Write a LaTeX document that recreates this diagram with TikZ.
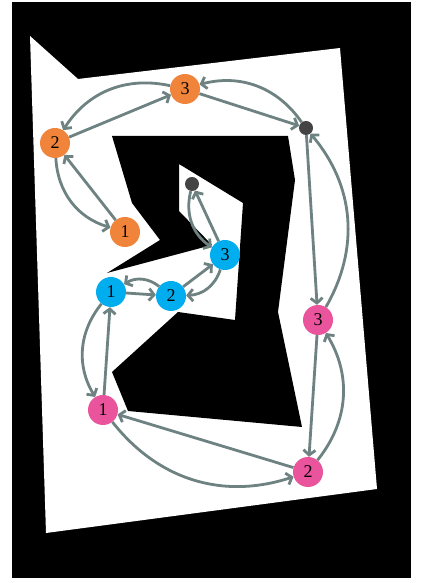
\documentclass[tikz,border=0pt]{standalone}
\usepackage{fontspec}
\setmainfont{Liberation Serif}
\usepackage{xcolor}
\definecolor{tangerine}{HTML}{F0843A}
\definecolor{sky}{HTML}{00AEEF}
\definecolor{rose}{HTML}{E9549C}
\definecolor{charcoal}{HTML}{444444}
\definecolor{sage}{HTML}{6F8282}
\usepackage{tikz}
\usetikzlibrary{arrows.meta}
\tikzset{
  >={Straight Barb[length=5pt,width=12pt]},
  spot/.style      ={circle,inner sep=0pt,minimum size=30pt,
                     font=\fontsize{18}{18}\selectfont},
  orangespot/.style={spot,fill=tangerine},
  bluespot/.style  ={spot,fill=sky},
  pinkspot/.style  ={spot,fill=rose},
  endspot/.style   ={circle,inner sep=0pt,minimum size=14pt,fill=charcoal},
  fwd/.style       ={->,draw=sage,line width=2.8pt},
  back/.style      ={->,draw=sage,line width=2.8pt,bend right=35},
  backl/.style     ={->,draw=sage,line width=2.8pt,bend left=35},
}

\begin{document}
\begin{tikzpicture}[x=1pt,y=1pt]
\useasboundingbox (0,0) rectangle (422,583);
% floor plan
\fill[black] (12,5) rectangle (411,581);
\fill[white] (30,547) -- (78,504) -- (340,535) -- (377,94) -- (46,50) -- cycle;
\fill[black] (112,447) -- (288,447) -- (295,403) -- (278,271) -- (302,156)
  -- (128,172) -- (112,211) -- (178,271) -- (235,263) -- (243,380)
  -- (179,419) -- (179,372) -- (212,338) -- (107,310) -- (160,343)
  -- (132,380) -- cycle;
% stops
\node[orangespot] (o1) at (125,351) {1};
\node[orangespot] (o2) at (55,440)  {2};
\node[orangespot] (o3) at (185,494) {3};
\node[endspot]    (d1) at (306,455) {};
\node[pinkspot]   (p3) at (318,263) {3};
\node[pinkspot]   (p2) at (308,111) {2};
\node[pinkspot]   (p1) at (103,173) {1};
\node[bluespot]   (b1) at (111,291) {1};
\node[bluespot]   (b2) at (171,287) {2};
\node[bluespot]   (b3) at (225,328) {3};
\node[endspot]    (d2) at (192,399) {};
% forward links
\draw[fwd] (o1) -- (o2);
\draw[fwd] (o2) -- (o3);
\draw[fwd] (o3) -- (d1);
\draw[fwd] (d1) -- (p3);
\draw[fwd] (p3) -- (p2);
\draw[fwd] (p2) -- (p1);
\draw[fwd] (p1) -- (b1);
\draw[fwd] (b1) -- (b2);
\draw[fwd] (b2) -- (b3);
\draw[fwd] (b3) -- (d2);
% return links
\draw[back]  (o2) to (o1);
\draw[back]  (o3) to (o2);
\draw[back]  (d1) to (o3);
\draw[back]  (p3) to (d1);
\draw[back]  (p2) to (p3);
\draw[back]  (p1) to (p2);
\draw[back]  (b1) to (p1);
\draw[back]  (b2) to (b1);
\draw[backl] (b3) to (b2);
\draw[back]  (d2) to (b3);
\end{tikzpicture}
\end{document}
